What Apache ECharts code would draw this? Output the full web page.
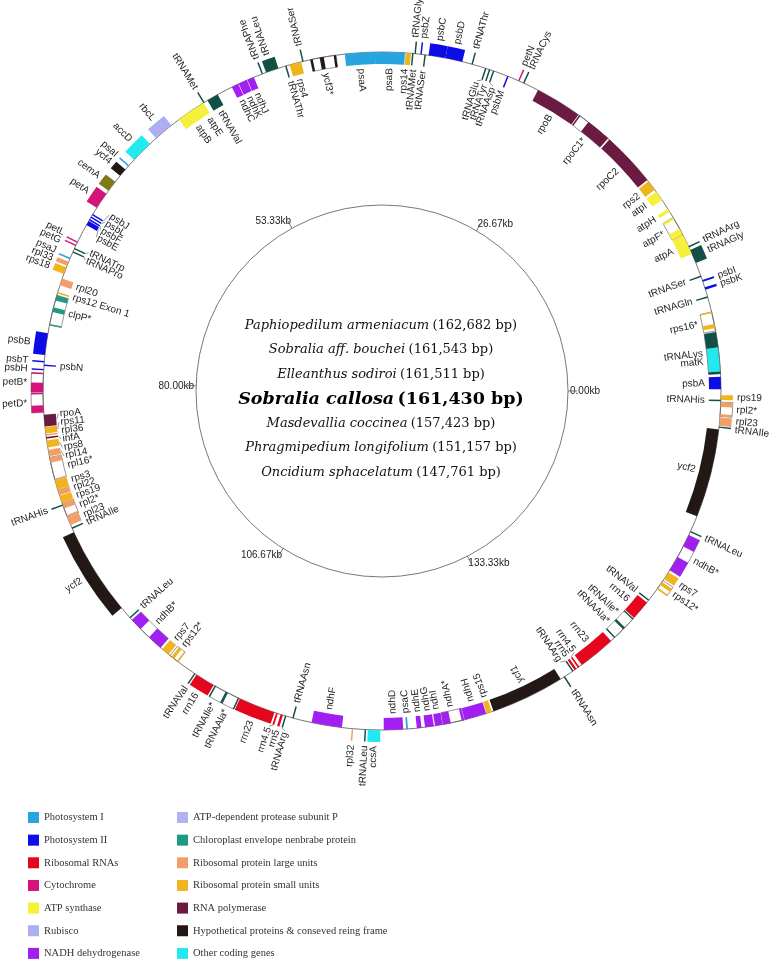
<!DOCTYPE html>
<html>
<head>
<meta charset="utf-8">
<script src="https://cdn.jsdelivr.net/npm/echarts@6/dist/echarts.min.js"></script>
<style>
  html, body { margin: 0; padding: 0; background: #fff; }
  #chart { width: 770px; height: 960px; }
</style>
</head>
<body>
<div id="chart"></div>
<script>
const genomeLength = 161430

const categories = [
  'Photosystem I', 'Photosystem II', 'Ribosomal RNAs', 'Cytochrome', 'ATP synthase', 'Rubisco',
  'NADH dehydrogenase', 'ATP-dependent protease subunit P', 'Chloroplast envelope nenbrabe protein',
  'Ribosomal protein large units', 'Ribosomal protein small units', 'RNA polymerase',
  'Hypothetical proteins & conseved reing frame', 'Other coding genes', 'tRNA', 'cemA'
]

// [label, start bp, end bp, strand (1 = outside, -1 = inside), category, exons]
const genes = [
  ['psbA', 135, 1076, -1, 1],
  ['tRNALys', 1300, 4484, -1, 14, [[1300, 1480], [3318, 4484]]],
  ['matK', 1480, 3318, -1, 13],
  ['rps16*', 4574, 6054, -1, 10, [[4798, 5112], [5964, 6054]]],
  ['tRNAGln', 7175, 7250, -1, 14],
  ['psbK', 7802, 7982, 1, 1],
  ['psbI', 8430, 8565, 1, 1],
  ['tRNASer', 8834, 8910, -1, 14],
  ['tRNAGly', 9955, 11031, 1, 14],
  ['tRNAArg', 11255, 11330, 1, 14],
  ['atpA', 10717, 12287, -1, 4],
  ['atpF*', 12332, 13811, -1, 4, [[12332, 12825], [13632, 13811]]],
  ['atpH', 14305, 14574, -1, 4],
  ['atpI', 15381, 16143, -1, 4],
  ['rps2', 16322, 17130, -1, 10],
  ['rpoC2', 17264, 21479, -1, 11],
  ['rpoC1*', 21614, 24394, -1, 11, [[21614, 23542], [24305, 24394]]],
  ['rpoB', 24483, 28071, -1, 11],
  ['tRNACys', 29237, 29312, 1, 14],
  ['petN', 29640, 29730, 1, 3],
  ['psbM', 30537, 30627, -1, 1],
  ['tRNAAsp', 31703, 31778, -1, 14],
  ['tRNATyr', 32017, 32092, -1, 14],
  ['tRNAGlu', 32331, 32406, -1, 14],
  ['tRNAThr', 33407, 33482, 1, 14],
  ['psbD', 34214, 35515, 1, 1],
  ['psbC', 35515, 36815, 1, 1],
  ['tRNASer', 37040, 37115, -1, 14],
  ['psbZ', 37353, 37433, 1, 1],
  ['tRNAGly', 37802, 37877, 1, 14],
  ['tRNAMet', 37981, 38056, -1, 14],
  ['rps14', 38160, 38564, -1, 10],
  ['psaB', 38609, 40896, -1, 0],
  ['psaA', 40896, 43183, -1, 0],
  ['ycf3*', 43856, 45829, -1, 12, [[43856, 44035], [44797, 45111], [45649, 45829]]],
  ['tRNASer', 46366, 46441, 1, 14],
  ['rps4', 46546, 47443, -1, 10],
  ['tRNAThr', 47712, 47787, -1, 14],
  ['tRNALeu', 48340, 49326, 1, 14],
  ['tRNAPhe', 49595, 49670, 1, 14],
  ['ndhJ', 50313, 50851, -1, 6],
  ['ndhK', 50896, 51569, -1, 6],
  ['ndhC', 51613, 52151, -1, 6],
  ['tRNAVal', 53362, 54259, -1, 14],
  ['tRNAMet', 54528, 54603, 1, 14],
  ['atpE', 54618, 55066, -1, 4],
  ['atpB', 55066, 56860, -1, 4],
  ['rbcL', 57577, 59101, 1, 5],
  ['accD', 59730, 61434, 1, 13],
  ['psaI', 62000, 62110, 1, 0],
  ['ycf4', 62420, 63048, 1, 12],
  ['cemA', 63631, 64483, 1, 15],
  ['petA', 64752, 66052, 1, 3],
  ['psbJ', 66615, 66705, -1, 1],
  ['psbL', 66840, 66925, -1, 1],
  ['psbF', 67070, 67150, -1, 1],
  ['psbE', 67218, 67577, -1, 1],
  ['petL', 68995, 69075, 1, 3],
  ['petG', 69275, 69355, 1, 3],
  ['tRNATrp', 69545, 69620, -1, 14],
  ['tRNAPro', 69815, 69890, -1, 14],
  ['psaJ', 70350, 70440, 1, 0],
  ['rpl33', 70671, 70985, 1, 9],
  ['rps18', 71120, 71658, 1, 10],
  ['rpl20', 72017, 72555, -1, 9],
  ['rps12 Exon 1', 73092, 73227, -1, 10],
  ['clpP*', 73360, 75693, -1, 8, [[73360, 73764], [74305, 74664], [75603, 75693]]],
  ['psbB', 76321, 77980, 1, 1],
  ['psbT', 78450, 78530, 1, 1],
  ['psbN', 78720, 78800, -1, 1],
  ['psbH', 79040, 79150, 1, 1],
  ['petB*', 79370, 80805, 1, 3, [[79370, 79420], [80088, 80805]]],
  ['petD*', 80894, 82329, 1, 3, [[80894, 80940], [81791, 82329]]],
  ['rpoA', 82509, 83405, -1, 11],
  ['rps11', 83450, 83944, -1, 10],
  ['rpl36', 84010, 84100, -1, 9],
  ['infA', 84213, 84348, -1, 11],
  ['rps8', 84482, 85020, -1, 10],
  ['rpl14', 85200, 85693, -1, 9],
  ['rpl16*', 85782, 87530, -1, 9, [[85782, 86186], [87441, 87530]]],
  ['rps3', 87575, 88293, -1, 10],
  ['rpl22', 88293, 88741, -1, 9],
  ['rps19', 88786, 89324, -1, 10],
  ['tRNAHis', 89500, 89575, 1, 14],
  ['rpl2*', 89369, 90535, -1, 9, [[89369, 89817], [90356, 90535]]],
  ['rpl23', 90580, 91163, -1, 9],
  ['tRNAIle', 91385, 91460, -1, 14],
  ['ycf2', 91747, 98563, 1, 12],
  ['tRNALeu', 99500, 99575, -1, 14],
  ['ndhB*', 99773, 102776, -1, 6, [[99773, 100714], [101611, 102776]]],
  ['rps7', 102956, 103583, -1, 10],
  ['rps12*', 103718, 104480, -1, 10, [[103852, 104121], [104391, 104480]]],
  ['tRNAVal', 106000, 106075, 1, 14],
  ['rrn16', 106185, 107709, 1, 2],
  ['tRNAIle*', 107844, 108830, 1, 14, [[107844, 107889], [108785, 108830]]],
  ['tRNAAla*', 108875, 109863, 1, 14, [[108875, 108920], [109818, 109863]]],
  ['rrn23', 109952, 112777, 1, 2],
  ['rrn4.5', 112911, 113046, 1, 2],
  ['rrn5', 113270, 113450, 1, 2],
  ['tRNAArg', 113630, 113705, 1, 14],
  ['tRNAAsn', 114210, 114285, -1, 14],
  ['ndhF', 115692, 118024, -1, 6],
  ['rpl32', 118790, 118880, 1, 9],
  ['tRNALeu', 119770, 119845, 1, 14],
  ['ccsA', 119997, 120939, 1, 13],
  ['ndhD', 121206, 122686, -1, 6],
  ['psaC', 122910, 123045, -1, 0],
  ['ndhE', 123718, 124076, -1, 6],
  ['ndhG', 124345, 125018, -1, 6],
  ['ndhI', 125107, 125690, -1, 6],
  ['ndhA*', 125735, 127350, -1, 6, [[125735, 126318], [127171, 127350]]],
  ['ndhH', 127394, 129098, -1, 6],
  ['rps15', 129143, 129547, -1, 10],
  ['ycf1', 129682, 135332, -1, 12],
  ['tRNAAsn', 135630, 135705, 1, 14],
  ['tRNAArg', 136400, 136475, -1, 14],
  ['rrn5', 136588, 136768, -1, 2],
  ['rrn4.5', 136902, 137037, -1, 2],
  ['rrn23', 137261, 140131, -1, 2],
  ['tRNAAla*', 140490, 141476, -1, 14, [[140490, 140535], [141431, 141476]]],
  ['tRNAIle*', 141521, 142508, -1, 14, [[141521, 141566], [142463, 142508]]],
  ['rrn16', 142597, 144122, -1, 2],
  ['tRNAVal', 144300, 144375, -1, 14],
  ['rps12*', 145422, 146184, 1, 10, [[145422, 145512], [145781, 146049]]],
  ['rps7', 146319, 146947, 1, 10],
  ['ndhB*', 147127, 150131, 1, 6, [[147127, 148290], [149187, 150131]]],
  ['tRNALeu', 150400, 150475, 1, 14],
  ['ycf2', 151699, 158515, -1, 12],
  ['tRNAIle', 158650, 158725, 1, 14],
  ['rpl23', 158784, 159412, 1, 9],
  ['rpl2*', 159502, 160578, 1, 9, [[159502, 159681], [160219, 160578]]],
  ['tRNAHis', 160667, 160742, -1, 14],
  ['rps19', 160757, 161116, 1, 10]
]

const speciesNames = [
  'Paphiopedilum armeniacum', 'Sobralia aff. bouchei', 'Elleanthus sodiroi', 'Sobralia callosa',
  'Masdevallia coccinea', 'Phragmipedium longifolium', 'Oncidium sphacelatum'
]
const genomeSizes = [162682, 161543, 161511, 161430, 157423, 151157, 147761]
const mainSpecies = 'Sobralia callosa'

const scaleTicks = [0, 26670, 53330, 80000, 106670, 133330]

// styles
const palette = [
  '#28a4de', '#0c0ce6', '#e4061c', '#d5147b', '#f6f03a', '#adaef2', '#a11ff0',
  '#b2b2f0', '#1f9a80', '#f19e68', '#f0b41e', '#6b1a41', '#231815', '#22e8f0',
  '#125046', '#7e7a14'
]
const RING = 339   // ring radius (radius axis runs in px)
const BOX = 12     // gene box height
const GAP = 4      // box to label
const labelFont = '10px "Liberation Sans", Arial, sans-serif'

const chart = echarts.init(document.getElementById('chart'))

function sectorEl (api, cs, s, e, r0, r1, style, minPx) {
  const p0 = api.coord([r1, s])
  const p1 = api.coord([r1, e])
  const q0 = api.coord([r0, s])
  let a0 = Math.atan2(p0[1] - cs.cy, p0[0] - cs.cx)
  let a1 = Math.atan2(p1[1] - cs.cy, p1[0] - cs.cx)
  if (a0 < a1) a0 += Math.PI * 2
  const rOut = Math.hypot(p0[0] - cs.cx, p0[1] - cs.cy)
  const rIn = Math.hypot(q0[0] - cs.cx, q0[1] - cs.cy)
  const minA = (minPx || 0) / rOut
  if (a0 - a1 < minA) {
    const m = (a0 + a1) / 2
    a0 = m + minA / 2
    a1 = m - minA / 2
  }
  return {
    type: 'sector',
    shape: { cx: cs.cx, cy: cs.cy, r0: rIn, r: rOut, startAngle: a1, endAngle: a0, clockwise: true },
    style
  }
}

function renderGene (params, api) {
  const g = genes[api.value(3)]
  const cs = params.coordSys
  const out = g[3] > 0
  const r0 = out ? RING : RING - BOX
  const r1 = out ? RING + BOX : RING
  const color = palette[g[4]]
  const children = []
  if (g[5]) {
    children.push(sectorEl(api, cs, g[1], g[2], r0, r1, { fill: 'rgba(255,255,255,0)', stroke: '#6a6a6a', lineWidth: 0.7 }, 1.5))
    g[5].forEach(x => children.push(sectorEl(api, cs, x[0], x[1], r0, r1, { fill: color }, 1.4)))
  } else {
    children.push(sectorEl(api, cs, g[1], g[2], r0, r1, { fill: color }, 1.5))
  }
  return { type: 'group', children }
}

// push overlapping labels apart (in bp along the ring)
function spreadLabels (side, radius, gapPx) {
  const items = genes
    .map((g, i) => ({ i, mid: (g[1] + g[2]) / 2 }))
    .filter(o => genes[o.i][3] === side)
    .sort((a, b) => a.mid - b.mid)
  const gap = gapPx / (2 * Math.PI * radius) * genomeLength
  items.forEach(o => { o.pos = o.mid })
  for (let it = 0; it < 400; it++) {
    let moved = false
    for (let k = 0; k < items.length - 1; k++) {
      const d = items[k + 1].pos - items[k].pos
      if (d < gap - 0.5) {
        const s = (gap - d) / 2
        items[k].pos -= s
        items[k + 1].pos += s
        moved = true
      }
    }
    if (!moved) break
  }
  return items
}

const labelItems = [
  ...spreadLabels(1, RING + BOX + GAP, 8.5),
  ...spreadLabels(-1, RING - BOX - GAP, 8.5)
]

function renderLabel (params, api) {
  const cs = params.coordSys
  const g = genes[api.value(3)]
  const side = g[3]
  const pos = api.value(0)
  const mid = api.value(1)
  const rA = side > 0 ? RING + BOX + GAP : RING - BOX - GAP
  const p = api.coord([rA, pos])
  const th = Math.atan2(cs.cy - p[1], p[0] - cs.cx) * 180 / Math.PI
  let d = side > 0 ? th : th + 180
  d = ((d % 360) + 540) % 360 - 180
  let align = 'left'
  if (!(d > -90 && d <= 118)) {
    d = d > 0 ? d - 180 : d + 180
    align = 'right'
  }
  const children = [{
    type: 'text',
    x: p[0],
    y: p[1],
    rotation: d * Math.PI / 180,
    style: { text: g[0], font: labelFont, fill: '#1e1e1e', align, verticalAlign: 'middle' }
  }]
  const pm = api.coord([rA, mid])
  if (Math.hypot(pm[0] - p[0], pm[1] - p[1]) > 2.5) {
    const e0 = api.coord([side > 0 ? RING + BOX + 0.5 : RING - BOX - 0.5, mid])
    const e1 = api.coord([side > 0 ? rA - 1.5 : rA + 1.5, pos])
    children.push({
      type: 'line',
      shape: { x1: e0[0], y1: e0[1], x2: e1[0], y2: e1[1] },
      style: { stroke: '#555', lineWidth: 0.6 }
    })
  }
  return { type: 'group', children }
}

const geneSeries = categories.map((name, c) => ({
  type: 'custom',
  name,
  coordinateSystem: 'polar',
  polarIndex: 0,
  itemStyle: { color: palette[c] },
  silent: true,
  animation: false,
  renderItem: renderGene,
  data: genes
    .map((g, i) => [g[1], g[2], g[3], i])
    .filter(v => genes[v[3]][4] === c)
}))

const labelSeries = {
  type: 'custom',
  name: 'labels',
  coordinateSystem: 'polar',
  polarIndex: 0,
  silent: true,
  animation: false,
  renderItem: renderLabel,
  data: labelItems.map(o => [o.pos, o.mid, genes[o.i][3], o.i])
}

const normalRich = {
  a: { fontFamily: 'DejaVu Serif', fontStyle: 'italic', fontSize: 13, fill: '#111' },
  b: { fontFamily: 'DejaVu Serif', fontSize: 13, fill: '#111' }
}
const boldRich = {
  a: { fontFamily: 'DejaVu Serif', fontStyle: 'italic', fontWeight: 'bold', fontSize: 17.5, fill: '#000' },
  b: { fontFamily: 'DejaVu Serif', fontWeight: 'bold', fontSize: 17.5, fill: '#000' }
}

const legendText = { fontFamily: 'Liberation Serif', fontSize: 10.5, color: '#333' }

chart.setOption({
  animation: false,
  polar: [
    { center: [382, 391], radius: RING },
    { center: [382, 391], radius: 186 }
  ],
  angleAxis: [
    {
      polarIndex: 0, type: 'value', min: 0, max: genomeLength, startAngle: 0, clockwise: false,
      axisLine: { lineStyle: { color: '#555', width: 0.8 } },
      axisTick: { show: false }, axisLabel: { show: false },
      splitLine: { show: false }, splitArea: { show: false }
    },
    {
      polarIndex: 1, type: 'value', min: 0, max: genomeLength, startAngle: 0, clockwise: false,
      axisLine: { lineStyle: { color: '#555', width: 0.8 } },
      axisTick: { show: true, customValues: scaleTicks, length: 9, lineStyle: { color: '#555', width: 0.8 } },
      axisLabel: {
        customValues: scaleTicks, margin: 2, fontSize: 10, color: '#222',
        fontFamily: 'Liberation Sans',
        formatter: v => (v / 1000).toFixed(2) + 'kb'
      },
      splitLine: { show: false }, splitArea: { show: false }
    }
  ],
  radiusAxis: [
    { polarIndex: 0, type: 'value', min: 0, max: RING, show: false, splitLine: { show: false } },
    { polarIndex: 1, type: 'value', min: 0, max: 186, show: false, splitLine: { show: false } }
  ],
  legend: [
    {
      data: categories.slice(0, 7), orient: 'vertical', left: 28, top: 812, padding: 0,
      itemWidth: 11, itemHeight: 11, itemGap: 11.65, icon: 'rect', selectedMode: false, textStyle: legendText
    },
    {
      data: categories.slice(7, 14), orient: 'vertical', left: 177, top: 812, padding: 0,
      itemWidth: 11, itemHeight: 11, itemGap: 11.65, icon: 'rect', selectedMode: false, textStyle: legendText
    }
  ],
  graphic: speciesNames.map((n, i) => ({
    type: 'text',
    x: 381,
    y: 325.5 + i * 24.5,
    silent: true,
    style: {
      text: '{a|' + n + '} {b|(' + genomeSizes[i].toLocaleString('en-US') + ' bp)}',
      rich: n === mainSpecies ? boldRich : normalRich,
      align: 'center',
      verticalAlign: 'middle'
    }
  })),
  series: [...geneSeries, labelSeries]
})
</script>
</body>
</html>
